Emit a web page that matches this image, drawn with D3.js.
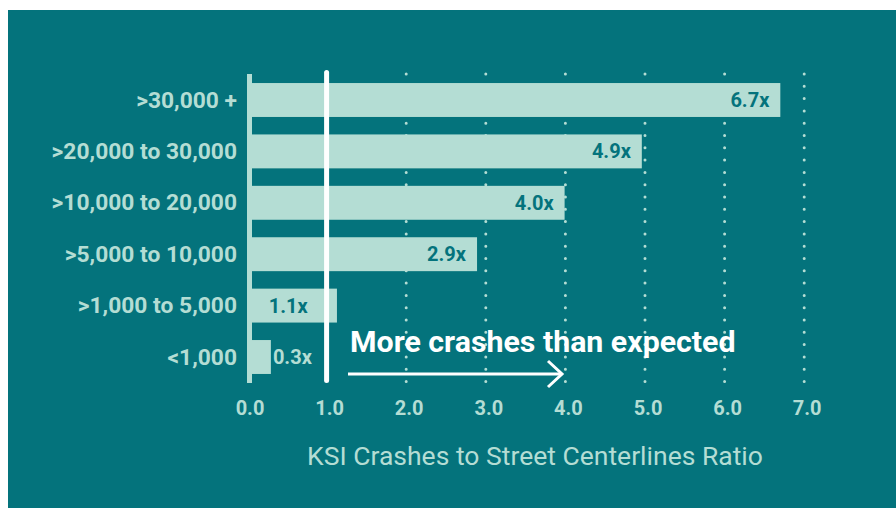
<!DOCTYPE html>
<html>
<head>
<meta charset="utf-8">
<script src="https://cdn.jsdelivr.net/npm/d3@7"></script>
<style>
  body { margin: 0; background: #fff; }
  svg { display: block; font-family: Roboto, "Noto Sans", sans-serif; }
</style>
</head>
<body>
<div id="chart"></div>
<script>
// data
var categories = [">30,000 +", ">20,000 to 30,000", ">10,000 to 20,000", ">5,000 to 10,000", ">1,000 to 5,000", "<1,000"];
var ratios = [6.7, 4.96, 3.99, 2.89, 1.13, 0.3];
var ratioLabels = ["6.7x", "4.9x", "4.0x", "2.9x", "1.1x", "0.3x"];
var tickValues = [0, 1, 2, 3, 4, 5, 6, 7];

var W = 896, H = 508;
var bg = "#04737c", light = "#b4ddd4", dark = "#04737c";

var svg = d3.select("#chart").append("svg")
  .attr("width", W)
  .attr("height", H);

// teal panel
svg.append("rect")
  .attr("x", 8).attr("y", 10)
  .attr("width", W - 8).attr("height", H - 10)
  .attr("fill", bg);

var x = d3.scaleLinear().domain([0, 7]).range([247, 804.2]);
var y = d3.scaleBand().domain(categories).range([74.3, 382.7])
  .paddingInner(0.34).paddingOuter(0.17);

// dotted grid lines
svg.selectAll(".grid")
  .data(tickValues.filter(function(d) { return d >= 2; }))
  .enter().append("line")
  .attr("class", "grid")
  .attr("x1", function(d) { return x(d); })
  .attr("x2", function(d) { return x(d); })
  .attr("y1", 74)
  .attr("y2", 383)
  .attr("stroke", light)
  .attr("stroke-width", 3)
  .attr("stroke-linecap", "round")
  .attr("stroke-dasharray", "0 12.3");

// bars
svg.selectAll(".bar")
  .data(ratios)
  .enter().append("rect")
  .attr("class", "bar")
  .attr("x", x(0))
  .attr("y", function(d, i) { return y(categories[i]); })
  .attr("width", function(d) { return x(d) - x(0); })
  .attr("height", y.bandwidth())
  .attr("fill", light);

// left axis line
svg.append("rect")
  .attr("x", x(0)).attr("y", 74)
  .attr("width", 5).attr("height", 309)
  .attr("fill", light);

// value labels
svg.selectAll(".val")
  .data(ratios)
  .enter().append("text")
  .attr("class", "val")
  .attr("x", function(d) {
    if (d < 0.6) return x(d) + 2;
    if (x(d) - 11 > x(1) - 16 && x(d) < x(1) + 40) return x(1) - 19;
    return x(d) - 11;
  })
  .attr("y", function(d, i) { return y(categories[i]) + y.bandwidth() / 2 + 7; })
  .attr("text-anchor", function(d) { return d < 0.6 ? "start" : "end"; })
  .attr("fill", function(d) { return d < 0.6 ? light : dark; })
  .attr("font-size", 20)
  .attr("font-weight", "bold")
  .text(function(d, i) { return ratioLabels[i]; });

// category labels
svg.selectAll(".cat")
  .data(categories)
  .enter().append("text")
  .attr("class", "cat")
  .attr("x", 237)
  .attr("y", function(d) { return y(d) + y.bandwidth() / 2 + 7.5; })
  .attr("text-anchor", "end")
  .attr("fill", light)
  .attr("font-size", 22.8)
  .attr("font-weight", "bold")
  .text(function(d) { return d; });

// reference line at 1.0
svg.append("line")
  .attr("x1", x(1)).attr("x2", x(1))
  .attr("y1", 72.5).attr("y2", 380.5)
  .attr("stroke", "#fff")
  .attr("stroke-width", 5)
  .attr("stroke-linecap", "round");

// x tick labels
svg.selectAll(".tick")
  .data(tickValues)
  .enter().append("text")
  .attr("class", "tick")
  .attr("x", function(d) { return x(d) + 3; })
  .attr("y", 415)
  .attr("text-anchor", "middle")
  .attr("fill", light)
  .attr("font-size", 20)
  .attr("font-weight", "bold")
  .text(function(d) { return d3.format(".1f")(d); });

// axis title
svg.append("text")
  .attr("x", 535)
  .attr("y", 465)
  .attr("text-anchor", "middle")
  .attr("fill", light)
  .attr("font-size", 26.5)
  .text("KSI Crashes to Street Centerlines Ratio");

// annotation
svg.append("text")
  .attr("x", 350)
  .attr("y", 352)
  .attr("fill", "#fff")
  .attr("font-size", 30.3)
  .attr("font-weight", "bold")
  .text("More crashes than expected");

var arrowY = 374;
svg.append("line")
  .attr("x1", 348).attr("x2", 562)
  .attr("y1", arrowY).attr("y2", arrowY)
  .attr("stroke", "#fff")
  .attr("stroke-width", 3);
svg.append("path")
  .attr("d", "M" + 548 + "," + (arrowY - 13) + "L" + 562 + "," + arrowY + "L" + 548 + "," + (arrowY + 13))
  .attr("fill", "none")
  .attr("stroke", "#fff")
  .attr("stroke-width", 3);
</script>
</body>
</html>
